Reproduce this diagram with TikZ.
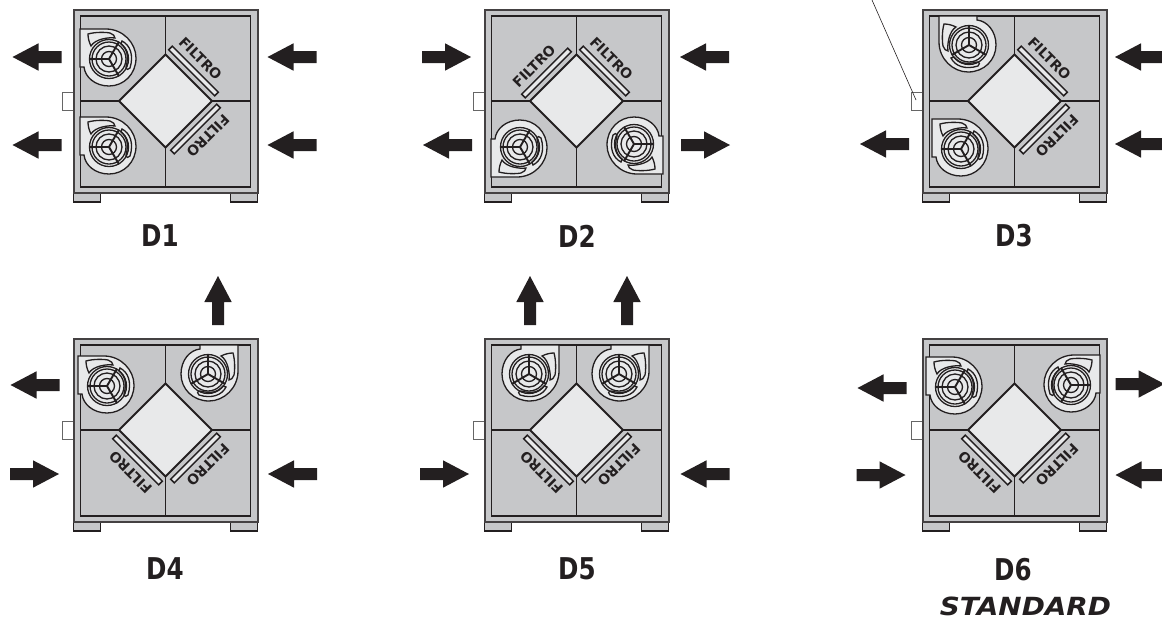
\documentclass[tikz,border=0pt]{standalone}
\usepackage{fontspec}
\setmainfont{DejaVu Sans}
\definecolor{framegray}{HTML}{C6C7C9}
\definecolor{lightgray2}{HTML}{E8E9EA}
\definecolor{inkblack}{HTML}{231F20}
\tikzset{
	x=1pt, y=-1pt,
	unitline/.style={draw=inkblack, line width=1.8pt, line join=miter},
	fanline/.style={draw=inkblack, line width=1.3pt},
	caption/.style={font=\fontsize{30}{30}\selectfont\bfseries, text=inkblack, inner sep=0pt, xscale=.82},
	% machine body, origin in the middle of the exchanger
	unit/.pic={
		\draw[inkblack, line width=1.2pt, fill=framegray] (-92,92) rectangle (-65,101);
		\draw[inkblack, line width=1.2pt, fill=framegray] (65,92) rectangle (92,101);
		\draw[gray!80!black, line width=.8pt, fill=white] (-103,-9) rectangle (-92,9.5);
		\draw[inkblack!85!white, line width=2pt, fill=framegray] (-92,-91) rectangle (92,92);
		\draw[unitline, fill=framegray] (-85,-85) rectangle (85,86);
		\draw[unitline] (0,-85) -- (0,85);
		\draw[unitline] (-85,0) -- (85,0);
		\draw[unitline, fill=lightgray2] (0,-46.5) -- (46.5,0) -- (0,46.5) -- (-46.5,0) -- cycle;
	},
	% filter on the upper right side, rotated for the others
	filtro/.pic={
		\draw[inkblack, line width=1.5pt, fill=lightgray2] (3.2,-51.2) -- (6.8,-54.8) -- (52.8,-8.8) -- (49.2,-5.2) -- cycle;
		\node[transform shape, rotate=-45, inner sep=0pt, text=inkblack, font=\fontsize{14}{14}\selectfont\bfseries] at (35,-42.5) {FILTRO};
	},
	% fan with its outlet to the left
	fan/.pic={
		\draw[fanline, fill=lightgray2] (-29,-30) -- (-3,-30) .. controls (14,-30) and (27,-16) .. (27,-1) .. controls (27,15) and (15,27) .. (0,27) .. controls (-14,27) and (-24,18) .. (-25,8) -- (-29,8) -- cycle;
		\draw[fanline] (-21,-25) .. controls (-14,-27) and (-4,-27) .. (1,-26) .. controls (4,-25) and (6,-23) .. (6,-21) .. controls (0,-22) and (-14,-20) .. (-18,-13) .. controls (-20,-17) and (-21,-21) .. cycle;
		\draw[fanline] (13,-18) .. controls (21,-14) and (25,-4) .. (21,9) .. controls (20,11) and (17,11) .. (17,8) .. controls (20,-3) and (18,-10) .. (12,-15) -- cycle;
		\draw[fanline] (0,0) circle (19.5);
		\draw[fanline] (0,0) circle (17);
		\draw[fanline] (0,0) circle (13);
		\draw[fanline] (0,0) circle (7.5);
		\draw[inkblack, line width=1.9pt] (0,0) -- (-20,0);
		\draw[inkblack, line width=1.9pt] (0,0) -- (10,-17.3);
		\draw[inkblack, line width=1.9pt] (0,0) -- (10,17.3);
	},
	% block arrow pointing along local x
	flowarrow/.pic={
		\fill[inkblack] (-24.5,-6) -- (-1.5,-6) -- (-1.5,-13.7) -- (24.5,0) -- (-1.5,13.7) -- (-1.5,6) -- (-24.5,6) -- cycle;
	}
}
\begin{document}
\begin{tikzpicture}
	\useasboundingbox (0,0) rectangle (1162,619);

	% D1
	\pic at (165.5,101) {unit};
	\pic at (165.5,101) {filtro};
	\pic[rotate=-90] at (165.5,101) {filtro};
	\pic at (109,59) {fan};
	\pic at (109,147) {fan};
	\pic[rotate=180] at (37,57) {flowarrow};
	\pic[rotate=180] at (37,145) {flowarrow};
	\pic[rotate=180] at (292,57) {flowarrow};
	\pic[rotate=180] at (292,145) {flowarrow};
	\node[caption] (D1) at (160,236) {D1};

	% D2
	\pic at (576.5,101) {unit};
	\pic[rotate=90] at (576.5,101) {filtro};
	\pic at (576.5,101) {filtro};
	\pic[yscale=-1] at (520,147) {fan};
	\pic[rotate=180] at (634,144) {fan};
	\pic at (446.5,57) {flowarrow};
	\pic[rotate=180] at (447.5,145) {flowarrow};
	\pic[rotate=180] at (704.5,57) {flowarrow};
	\pic at (705.5,145) {flowarrow};
	\node[caption] (D2) at (577,236) {D2};

	% D3
	\pic at (1014.5,101) {unit};
	\pic at (1014.5,101) {filtro};
	\pic[rotate=-90] at (1014.5,101) {filtro};
	\pic[rotate=-90, yscale=-1] at (969,45) {fan};
	\pic at (961,149) {fan};
	\pic[rotate=180] at (884.5,144) {flowarrow};
	\pic[rotate=180] at (1139.5,57) {flowarrow};
	\pic[rotate=180] at (1139.5,144) {flowarrow};
	\node[caption] (D3) at (1014,236) {D3};

	% D4
	\pic at (165.5,430) {unit};
	\pic[rotate=-90] at (165.5,430) {filtro};
	\pic[rotate=180] at (165.5,430) {filtro};
	\pic at (107,386) {fan};
	\pic[rotate=-90] at (208,374) {fan};
	\pic[rotate=180] at (35,385) {flowarrow};
	\pic at (34.5,474) {flowarrow};
	\pic[rotate=180] at (292.5,474) {flowarrow};
	\pic[rotate=90] at (218,300.5) {flowarrow};
	\node[caption] (D4) at (165,569) {D4};

	% D5
	\pic at (576.5,430) {unit};
	\pic[rotate=-90] at (576.5,430) {filtro};
	\pic[rotate=180] at (576.5,430) {filtro};
	\pic[rotate=-90] at (529,374) {fan};
	\pic[rotate=-90] at (619,374) {fan};
	\pic[rotate=90] at (530,300.5) {flowarrow};
	\pic[rotate=90] at (627,300.5) {flowarrow};
	\pic at (444.5,474) {flowarrow};
	\pic[rotate=180] at (705,474) {flowarrow};
	\node[caption] (D5) at (577,569) {D5};

	% D6
	\pic at (1014.5,430) {unit};
	\pic[rotate=-90] at (1014.5,430) {filtro};
	\pic[rotate=180] at (1014.5,430) {filtro};
	\pic at (955,387) {fan};
	\pic[xscale=-1] at (1071,385) {fan};
	\pic[rotate=180] at (882,388) {flowarrow};
	\pic at (881,475) {flowarrow};
	\pic at (1140,384) {flowarrow};
	\pic[rotate=180] at (1140,475) {flowarrow};
	\node[caption] (D6) at (1013,570) {D6};
	\node[caption, font=\fontsize{25}{25}\selectfont\bfseries\itshape, xscale=1.36] (std) at (1025.5,606) {STANDARD};

	% leader to the box of D3
	\coordinate (leadtop) at (872,0);
	\coordinate (leadend) at (916,100);
	\draw[inkblack, line width=.6pt] (leadtop) -- (leadend);
\end{tikzpicture}
\end{document}
